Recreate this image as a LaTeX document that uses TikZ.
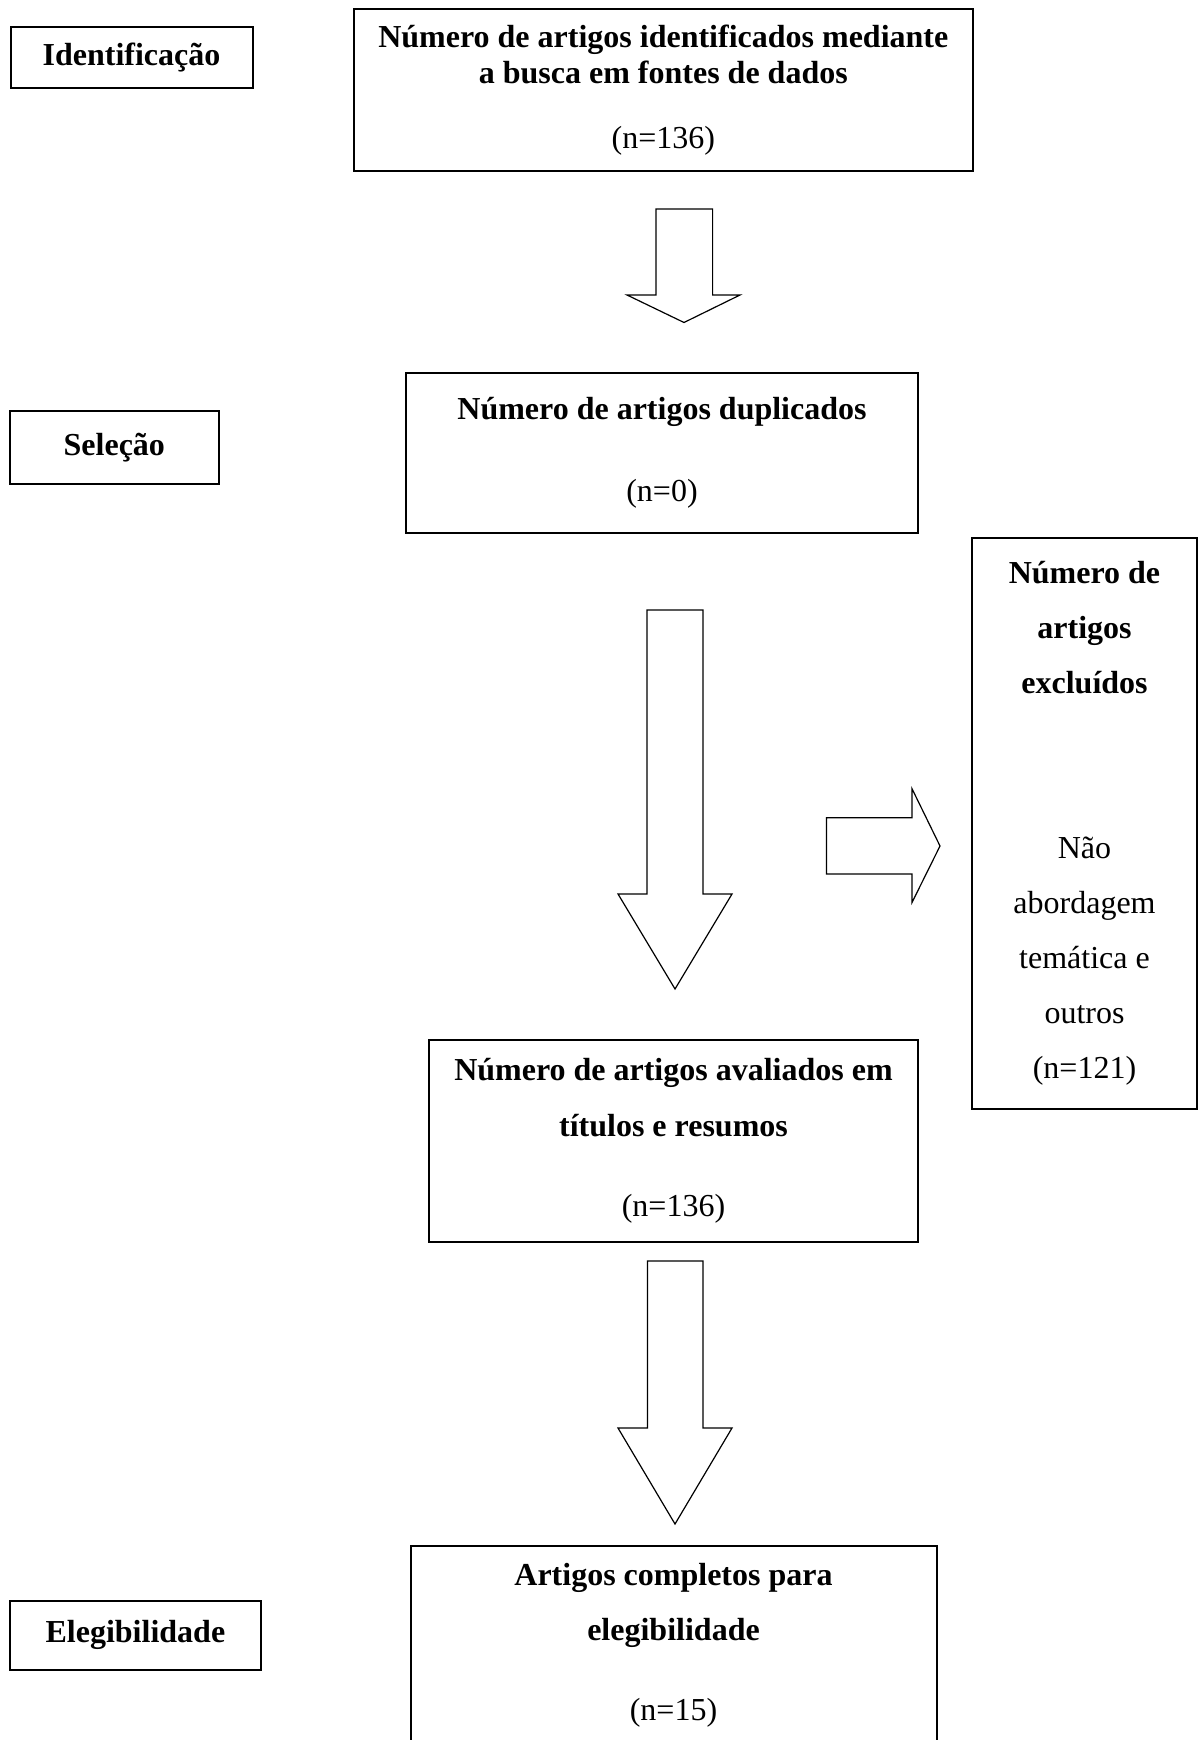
\documentclass[tikz,border=0pt]{standalone}
\usepackage{fontspec}
\setmainfont{Liberation Serif}
\usetikzlibrary{positioning}

\begin{document}
\begin{tikzpicture}[
    x=0.375pt, y=-0.375pt,
    every node/.style={font=\fontsize{12}{13.8}\selectfont},
    box/.style={draw, line width=0.75pt, inner sep=0pt, align=center},
    stage/.style={box, font=\fontsize{12}{13.8}\selectfont\bfseries},
    hollow/.style={draw, line width=0.45pt, fill=white, line join=miter}
  ]
  \fill[white] (0,0) rectangle (1199,1740);
  \useasboundingbox (0,0) rectangle (1199,1740);

  % fases
  \node[stage, minimum width=90.75pt, minimum height=22.7pt] (ident) at (131.5,57.3) {Identificação};
  \node[stage, minimum width=78.2pt,  minimum height=27.4pt] (sel)   at (114.3,447.5) {Seleção};
  \node[stage, minimum width=94pt,    minimum height=26.1pt] (elig)  at (135.4,1635.3) {Elegibilidade};

  % caixas do fluxo
  \node[box, minimum width=231.9pt, minimum height=61.05pt] (busca) at (663.3,90)
    {\textbf{Número de artigos identificados mediante}\\\textbf{a busca em fontes de dados}\\[10.4pt](n=136)};
  \node[box, minimum width=192pt, minimum height=60pt] (dupl) at (662,453)
    {\textbf{Número de artigos duplicados}\\[17pt](n=0)};
  \node[box, minimum width=84.4pt, minimum height=214.3pt,
        font=\fontsize{12}{20.6}\selectfont] (excl) at (1084.5,823.3)
    {\textbf{Número de}\\\textbf{artigos}\\\textbf{excluídos}\\[41.2pt]Não\\abordagem\\temática e\\outros\\(n=121)};
  \node[box, minimum width=183.4pt, minimum height=75.9pt,
        font=\fontsize{12}{21}\selectfont] (aval) at (673.5,1140.8)
    {\textbf{Número de artigos avaliados em}\\\textbf{títulos e resumos}\\[9pt](n=136)};
  \node[box, minimum width=197.25pt, minimum height=74.5pt,
        font=\fontsize{12}{20.8}\selectfont] (comp) at (673.5,1645)
    {\textbf{Artigos completos para}\\\textbf{elegibilidade}\\[9pt](n=15)};

  % setas vazadas
  \draw[hollow] (656,209) -- (712.6,209) -- (712.6,295) -- (740,295) -- (684,322.5)
    -- (627,295) -- (656,295) -- cycle;
  \draw[hollow] (647,610) -- (703,610) -- (703,894) -- (732,894) -- (675,989)
    -- (618,894) -- (647,894) -- cycle;
  \draw[hollow] (826.5,817.7) -- (912,817.7) -- (912,788.7) -- (940,846)
    -- (912,902.5) -- (912,874) -- (826.5,874) -- cycle;
  \draw[hollow] (647.5,1261) -- (703,1261) -- (703,1428) -- (732,1428) -- (675,1524)
    -- (618,1428) -- (647.5,1428) -- cycle;
\end{tikzpicture}
\end{document}
